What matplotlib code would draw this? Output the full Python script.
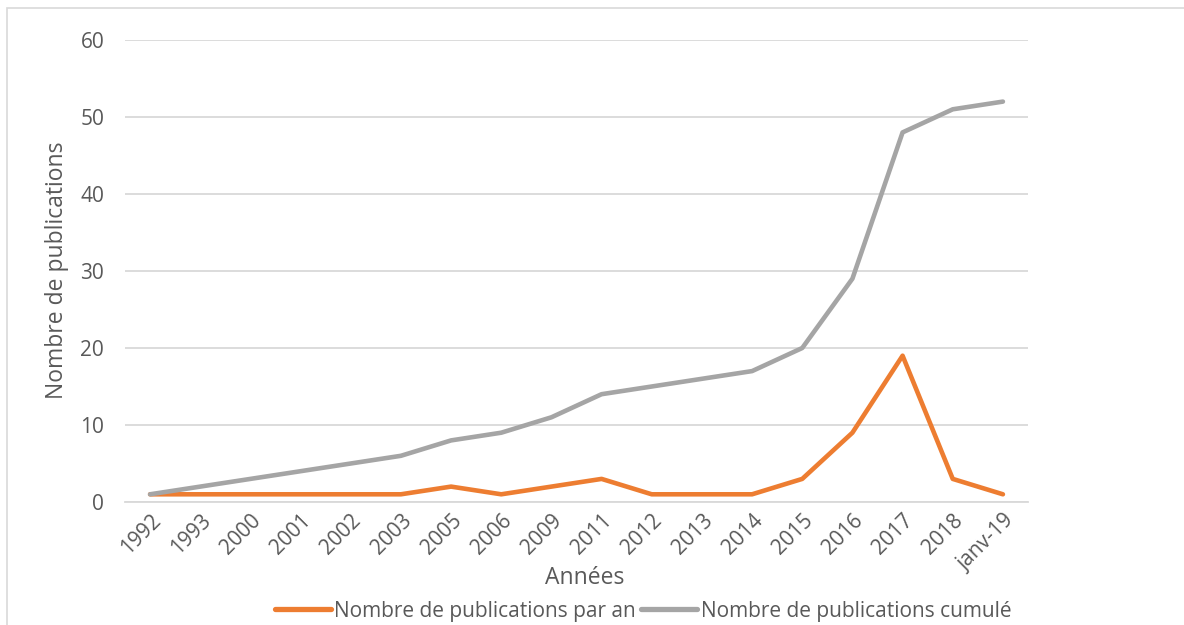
import matplotlib
matplotlib.use("Agg")
from matplotlib import pyplot, patches

years = ["1992", "1993", "2000", "2001", "2002", "2003", "2005", "2006", "2009",
         "2011", "2012", "2013", "2014", "2015", "2016", "2017", "2018", "janv-19"]
per_year = [1, 1, 1, 1, 1, 1, 2, 1, 2, 3, 1, 1, 1, 3, 9, 19, 3, 1]
cumulative = [1, 2, 3, 4, 5, 6, 8, 9, 11, 14, 15, 16, 17, 20, 29, 48, 51, 52]
y_ticks = [0, 10, 20, 30, 40, 50, 60]

text_colour = "#595959"
pyplot.rcParams["font.family"] = ["Open Sans", "DejaVu Sans"]

W, H = 1184, 625
fig = pyplot.figure(figsize=(W / 100, H / 100), dpi=100)
ax = fig.add_axes([125 / W, 1 - 502 / H, (1028 - 125) / W, (502 - 40) / H])

# Chart frame (only top and left edges are visible in the crop)
fig.patches.append(patches.Rectangle((7 / W, -0.1), 1.2, 1 - 8 / H + 0.1, transform=fig.transFigure,
                                     fill=False, edgecolor="#D9D9D9", linewidth=1.2))

x = list(range(len(years)))
ax.plot(x, per_year, color="#ED7D31", linewidth=3.3, solid_capstyle="round", solid_joinstyle="round",
        label="Nombre de publications par an", zorder=3)
ax.plot(x, cumulative, color="#A5A5A5", linewidth=3.3, solid_capstyle="round", solid_joinstyle="round",
        label="Nombre de publications cumulé", zorder=3)

ax.set_xlim(-0.5, len(years) - 0.5)
ax.set_ylim(0, 60)
ax.set_yticks(y_ticks)
ax.set_xticks(x)
ax.set_xticklabels(years, rotation=45, ha="right", va="top", rotation_mode="anchor")
ax.tick_params(axis="both", length=0, labelsize=15, labelcolor=text_colour)
ax.tick_params(axis="y", pad=15)
ax.tick_params(axis="x", pad=6)
ax.grid(axis="y", color="#D9D9D9", linewidth=1.3)
ax.set_axisbelow(True)
for side in ["top", "right", "left"]:
    ax.spines[side].set_visible(False)
ax.spines["bottom"].set_color("#D9D9D9")
ax.spines["bottom"].set_linewidth(1.3)

fig.text(585 / W, 1 - 578 / H, "Années", ha="center", va="center", fontsize=16.5, color=text_colour)
fig.text(57 / W, 1 - 270 / H, "Nombre de publications", ha="center", va="center", rotation=90,
         fontsize=16.5, color=text_colour)

leg = fig.legend(loc="center", bbox_to_anchor=(643 / W, 1 - 611 / H), ncol=2, frameon=False,
                 fontsize=15, labelcolor=text_colour, handlelength=2.7, handletextpad=0.15,
                 columnspacing=0.25)
for line in leg.get_lines():
    line.set_linewidth(3.8)

fig.savefig("out.png", dpi=100)
